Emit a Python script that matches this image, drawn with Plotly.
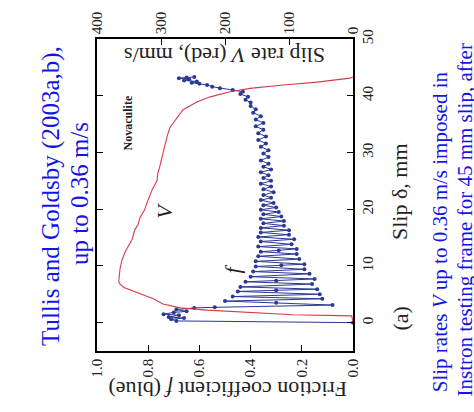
import plotly.graph_objects as go

# ---- data ----
# Slip rate V (mm/s) vs slip (mm)  -- red curve
red_slip = [0.0, 1.2, 1.4, 1.9, 2.2, 2.6, 3.3, 4.2, 5.0, 5.5, 6.2, 6.9, 7.3, 9.5, 11.0, 12.5,
            13.6, 14.7, 16.4, 17.2, 18.5, 19.8, 21.1, 23.4, 25.1, 26.3, 27.5, 29.8, 31.5,
            33.0, 34.4, 36.2, 37.5, 38.9, 39.8, 40.7, 41.3, 41.9, 42.4, 43.1, 43.3]
red_v = [0, 2, 94, 177, 228, 270, 297, 312, 330, 344, 358, 365, 366, 364, 361, 356,
         350, 345, 341, 336, 333, 326, 322, 314, 306, 305, 302, 297, 294,
         290, 286, 275, 266, 244, 223, 192, 161, 109, 56, 5, 0]

# Friction coefficient f vs slip (mm) -- blue curve with markers
blue_slip = [0.0, 0.3, 0.6, 0.8, 1.0, 1.3, 1.5, 1.8, 2.0, 2.3, 2.6, 2.7, 3.1, 3.5, 3.8,
             4.2, 4.6, 5.0, 5.5, 5.7, 5.9, 6.3, 6.8, 7.2, 7.4, 7.7, 8.1, 8.6, 9.0, 9.4,
             9.9, 10.1, 10.3, 10.8, 11.2, 11.7, 12.1, 12.5, 12.7, 13.0, 13.4, 13.8, 14.3,
             14.7, 15.1, 15.5, 15.9, 16.3, 16.7, 17.1, 17.5, 17.9, 18.3, 18.7, 19.1, 19.5,
             19.9, 20.3, 20.7, 21.1, 21.6, 22.0, 22.5, 23.0, 23.5, 24.0, 24.5, 25.0, 25.5,
             26.0, 26.5, 27.0, 27.5, 28.0, 28.6, 29.2, 29.8, 30.4, 31.0, 31.6, 32.2, 32.8,
             33.4, 34.0, 34.6, 35.2, 35.8, 36.4, 37.0, 37.6, 38.2, 38.8, 39.3, 39.8, 40.3,
             40.7, 41.0, 41.3, 41.6, 41.9, 42.1, 42.3, 42.5, 42.7, 42.9, 43.1, 43.2, 43.3]
blue_f = [0.00, 0.69, 0.71, 0.66, 0.72, 0.68, 0.74, 0.70, 0.65, 0.69, 0.62, 0.54, 0.08, 0.30, 0.50,
          0.12, 0.47, 0.13, 0.45, 0.30, 0.14, 0.44, 0.16, 0.42, 0.30, 0.15, 0.40, 0.17, 0.39, 0.19,
          0.38, 0.28, 0.19, 0.38, 0.21, 0.37, 0.22, 0.36, 0.29, 0.22, 0.37, 0.24, 0.36,
          0.23, 0.37, 0.25, 0.36, 0.25, 0.36, 0.27, 0.35, 0.27, 0.36, 0.28, 0.35, 0.29,
          0.36, 0.30, 0.35, 0.31, 0.36, 0.32, 0.35, 0.31, 0.35, 0.32, 0.36, 0.32, 0.35,
          0.33, 0.36, 0.32, 0.35, 0.33, 0.36, 0.33, 0.35, 0.33, 0.36, 0.34, 0.37, 0.34,
          0.37, 0.35, 0.38, 0.35, 0.38, 0.36, 0.39, 0.38, 0.40, 0.40, 0.42, 0.41, 0.44,
          0.43, 0.47, 0.52, 0.55, 0.57, 0.60, 0.63, 0.61, 0.66, 0.64, 0.68, 0.65, 0.62]

f_ticks = [0.0, 0.2, 0.4, 0.6, 0.8, 1.0]
f_ticktext = ["0.0", "0.2", "0.4", "0.6", "0.8", "1.0"]
v_ticks = [0, 100, 200, 300, 400]
slip_ticks = [0, 10, 20, 30, 40, 50]

SERIF = "Liberation Serif, Times New Roman, serif"
W, H = 474, 412
L, R, T, B = 97, 353, 33, 351


def P(px, py):
    return (px - L) / (R - L), (B - py) / (B - T)


fig = go.Figure()
fig.add_trace(go.Scatter(x=red_v, y=red_slip, xaxis="x2", yaxis="y", mode="lines",
                         line=dict(color="#d93a48", width=1.1), hoverinfo="skip"))
fig.add_trace(go.Scatter(x=blue_f, y=blue_slip, xaxis="x", yaxis="y", mode="lines+markers",
                         line=dict(color="#2b3994", width=1),
                         marker=dict(color="#2b3994", size=4), hoverinfo="skip"))

axis_common = dict(showgrid=False, zeroline=False, showline=True, linecolor="black",
                   linewidth=1.6, ticks="inside", ticklen=6, tickwidth=1.2, tickcolor="black",
                   tickangle=-90, tickfont=dict(family=SERIF, size=15, color="#222"))

fig.update_layout(
    width=W, height=H, showlegend=False,
    margin=dict(l=L, r=W - R, t=T, b=H - B, pad=0),
    paper_bgcolor="white", plot_bgcolor="white",
    font=dict(family=SERIF),
    xaxis=dict(range=[1.0, 0.0], tickvals=f_ticks, ticktext=f_ticktext, **axis_common),
    xaxis2=dict(range=[400, 0], overlaying="x", side="top", tickvals=v_ticks, **axis_common),
    yaxis=dict(range=[-5, 50], side="right", tickvals=slip_ticks, mirror="ticks", **axis_common),
)

ann = []


def add(text, px, py, size, angle, color="#222", bold=False):
    x, y = P(px, py)
    if bold:
        text = "<b>" + text + "</b>"
    ann.append(dict(text=text, x=x, y=y, xref="paper", yref="paper", showarrow=False,
                    xanchor="center", yanchor="middle", textangle=angle,
                    font=dict(family=SERIF, size=size, color=color)))


add("Slip rate <i>V</i> (red), mm/s", 225, 50, 22, 180)
add("Friction coefficient <i>f</i> (blue)", 228, 391, 22, 180)
add("Slip δ, mm", 399, 189, 22, -90)
add("(a)", 401, 318, 22, -90)
add("Novaculite", 128, 119, 12, -90, bold=True)
add("<i>V</i>", 165, 208, 22, -90)
add("<i>f</i>", 233, 268, 22, -90)
BLUE = "#1414e6"
add("Tullis and Goldsby (2003a,b),", 51, 193, 25, -90, BLUE)
add("up to 0.36 m/s", 79, 191, 25, -90, BLUE)
add("Slip rates <i>V</i> up to 0.36 m/s imposed in", 440, 230, 21, -90, BLUE)
add("Instron testing frame for 45 mm slip, after", 465, 218, 21, -90, BLUE)

fig.update_layout(annotations=ann)
fig.write_html("out.html")
